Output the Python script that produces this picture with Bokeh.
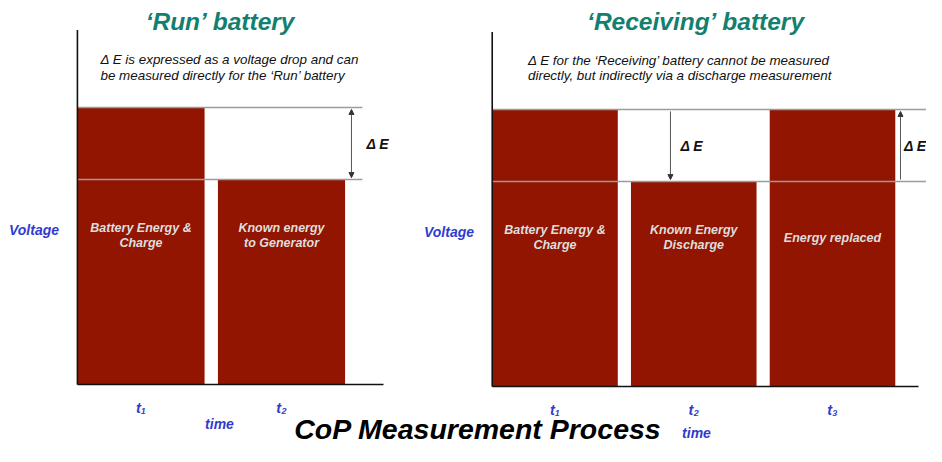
from bokeh.plotting import figure
from bokeh.models import Range1d, ColumnDataSource, Arrow, NormalHead
from bokeh.core.properties import value
from bokeh.embed import file_html
from bokeh.resources import INLINE

# ---------------- data ----------------
run_times = ["t₁", "t₂"]
run_voltage = [10.0, 7.4]
run_labels = ["Battery Energy &\nCharge", "Known energy\nto Generator"]

recv_times = ["t₁", "t₂", "t₃"]
recv_voltage = [10.0, 7.4, 10.0]
recv_labels = ["Battery Energy &\nCharge", "Known Energy\nDischarge", "Energy replaced"]

panel_titles = ["‘Run’ battery", "‘Receiving’ battery"]
panel_notes = [
    "Δ E is expressed as a voltage drop and can\nbe measured directly for the ‘Run’ battery",
    "Δ E for the ‘Receiving’ battery cannot be measured\ndirectly, but indirectly via a discharge measurement",
]
delta_label = "Δ E"
y_label = "Voltage"
x_label = "time"
main_title = "CoP Measurement Process"

# ---------------- style ----------------
FONT = "Liberation Sans"
BAR = "#911500"
TEAL = "#127f71"
BLUE = "#2f3bd0"
GRAY = "#9c9c9c"
BARTXT = "#dedede"

W, H = 926, 446
X0, X1 = 0, W
Y0, Y1 = 0, H
K = 27.7           # px per volt
BW = 0.905         # bar width (in step units)

p = figure(width=W, height=H, output_backend="svg", toolbar_location=None,
           x_axis_type=None, y_axis_type=None, title_location=None,
           x_range=Range1d(X0, X1), y_range=Range1d(Y1, Y0),
           min_border=0, outline_line_color=None)
p.xgrid.visible = False
p.ygrid.visible = False

# panel coordinate systems (index -> px, volt -> px)
panels = {
    "l": dict(origin=140.5, step=140.5, base=384.0),
    "r": dict(origin=554.5, step=138.75, base=386.0),
}
for k, g in panels.items():
    p.extra_x_ranges[k + "x"] = Range1d((X0 - g["origin"]) / g["step"], (X1 - g["origin"]) / g["step"])
    p.extra_y_ranges[k + "y"] = Range1d((g["base"] - Y1) / K, (g["base"] - Y0) / K)


def txt(x, y, text, size, color, style="bold italic", align="center", xr="default", yr="default",
        lh=1.06):
    src = ColumnDataSource(dict(x=x, y=y, text=text))
    p.text(x="x", y="y", text="text", source=src, text_font=value(FONT),
           text_font_size=size, text_font_style=style, text_color=color,
           text_align=align, text_baseline="middle", x_range_name=xr, y_range_name=yr,
           text_line_height=lh)


def panel(key, times, volts, labels, line_end, axis_end, arrows, delta_xs):
    xr, yr = key + "x", key + "y"
    idx = list(range(len(times)))
    src = ColumnDataSource(dict(x=idx, top=volts))
    p.vbar(x="x", top="top", bottom=0, width=BW, source=src, fill_color=BAR,
           line_color=None, x_range_name=xr, y_range_name=yr)
    hi, lo = max(volts), min(volts)
    left = -BW / 2
    # reference level lines
    p.segment(x0=[left, left], y0=[hi, lo], x1=[line_end, line_end], y1=[hi, lo],
              line_color=GRAY, line_width=1.6, x_range_name=xr, y_range_name=yr)
    # axis lines
    p.segment(x0=[left, left], y0=[0, 0], x1=[left, axis_end], y1=[12.8, 0],
              line_color="#111111", line_width=1.6, x_range_name=xr, y_range_name=yr)
    # delta arrows
    for ax, kind in arrows:
        gap = 0.07
        head = dict(size=5, line_color="#333", fill_color="#333")
        if kind == "both":
            a = Arrow(x_start=ax, y_start=lo + gap, x_end=ax, y_end=hi - gap,
                      start=NormalHead(**head), end=NormalHead(**head))
        elif kind == "down":
            a = Arrow(x_start=ax, y_start=hi - gap, x_end=ax, y_end=lo + gap,
                      end=NormalHead(**head))
        else:
            a = Arrow(x_start=ax, y_start=lo + gap, x_end=ax, y_end=hi - gap,
                      end=NormalHead(**head))
        a.line_color = "#555555"
        a.line_width = 1
        a.x_range_name = xr
        a.y_range_name = yr
        p.add_layout(a)
    mid = (hi + lo) / 2
    txt(delta_xs, [mid] * len(delta_xs), [delta_label] * len(delta_xs), "14px", "#111111",
        align="left", xr=xr, yr=yr)
    # bar labels
    txt(idx, [5.37] * len(idx), labels, "12.5px", BARTXT, xr=xr, yr=yr)
    # time tick labels
    txt(idx, [-0.85] * len(idx), times, "14.5px", BLUE, xr=xr, yr=yr)


panel("l", run_times, run_voltage, run_labels, line_end=1.576, axis_end=1.726,
      arrows=[(1.498, "both")], delta_xs=[1.605])
panel("r", recv_times, recv_voltage, recv_labels, line_end=3.3, axis_end=2.62,
      arrows=[(0.832, "down"), (2.49, "up")], delta_xs=[0.832 + 0.073, 2.515])

# page-level texts (pixel coordinates)
txt([220, 695.5], [20.7, 20.7], panel_titles, "24.5px", TEAL)
txt([100, 527.5], [67.2, 67.5], panel_notes, "13.4px", "#111111", style="italic", align="left")
txt([33.5, 448.5], [229.4, 231], [y_label, y_label], "14px", BLUE)
txt([219, 696], [423, 432.5], [x_label, x_label], "14px", BLUE)
txt([477.5], [428], [main_title], "28.5px", "#000000")

open("out.html", "w").write(file_html(p, INLINE))
